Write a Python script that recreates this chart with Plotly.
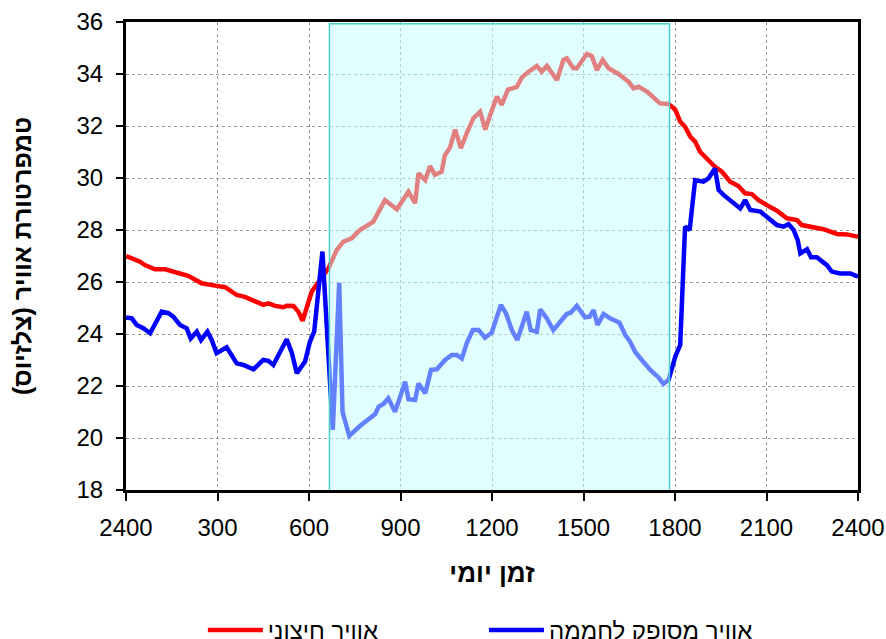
import plotly.graph_objects as go

# ---- data ----
outside_name = "אוויר חיצוני"
supply_name = "אוויר מסופק לחממה"

outside_hours = [0.00, 0.46, 0.62, 0.95, 1.28, 1.55, 1.83, 2.04, 2.48, 2.70, 2.97, 3.25, 3.63, 3.90,
                 4.29, 4.50, 4.67, 4.89, 5.16, 5.27, 5.49, 5.65, 5.79, 6.09, 6.36, 6.64, 6.91, 7.13,
                 7.40, 7.67, 8.11, 8.49, 8.88, 9.26, 9.48, 9.59, 9.81, 9.97, 10.13, 10.35, 10.45,
                 10.63, 10.79, 10.98, 11.17, 11.39, 11.61, 11.78, 11.94, 12.16, 12.32, 12.52, 12.81,
                 12.98, 13.20, 13.47, 13.63, 13.80, 14.13, 14.34, 14.45, 14.67, 14.78, 15.11, 15.27,
                 15.44, 15.63, 15.82, 16.15, 16.48, 16.64, 16.81, 17.08, 17.30, 17.51, 17.79, 18.01,
                 18.17, 18.33, 18.50, 18.66, 18.82, 19.04, 19.31, 19.54, 19.81, 20.08, 20.30, 20.52,
                 20.74, 21.07, 21.34, 21.67, 22.00, 22.16, 22.54, 22.87, 23.31, 23.64, 24.00]
outside_temp = [27.00, 26.78, 26.65, 26.49, 26.49, 26.40, 26.27, 26.24, 25.95, 25.92, 25.85, 25.80, 25.50, 25.43,
                25.20, 25.12, 25.18, 25.08, 25.03, 25.09, 25.08, 24.86, 24.51, 25.63, 26.08, 26.53, 27.23, 27.55,
                27.68, 28.00, 28.32, 29.15, 28.80, 29.47, 29.03, 30.18, 29.92, 30.46, 30.12, 30.24, 30.85,
                31.20, 31.86, 31.15, 31.72, 32.30, 32.55, 31.86, 32.42, 33.13, 32.81, 33.40, 33.50,
                33.87, 34.09, 34.31, 34.09, 34.31, 33.77, 34.54, 34.60, 34.22, 34.22, 34.77, 34.69,
                34.15, 34.54, 34.22, 34.00, 33.70, 33.45, 33.51, 33.32, 33.07, 32.87, 32.85, 32.62,
                32.17, 31.97, 31.59, 31.40, 31.01, 30.76, 30.43, 30.24, 29.86, 29.69, 29.41, 29.38,
                29.15, 28.92, 28.74, 28.45, 28.38, 28.19, 28.10, 28.03, 27.85, 27.83, 27.74]

supply_hours = [0.00, 0.19, 0.35, 0.57, 0.79, 1.17, 1.39, 1.55, 1.77, 1.99, 2.12, 2.32, 2.46, 2.67,
                2.81, 2.97, 3.30, 3.63, 3.85, 4.18, 4.50, 4.67, 4.83, 5.27, 5.44, 5.60, 5.87, 6.03,
                6.17, 6.44, 6.78, 6.99, 7.10, 7.32, 7.67, 8.00, 8.17, 8.28, 8.44, 8.60, 8.82, 8.99,
                9.15, 9.26, 9.48, 9.59, 9.81, 10.00, 10.19, 10.46, 10.68, 10.85, 11.01, 11.17, 11.37,
                11.56, 11.77, 11.99, 12.29, 12.46, 12.65, 12.83, 13.14, 13.27, 13.47, 13.58, 13.80,
                14.01, 14.23, 14.45, 14.58, 14.78, 15.05, 15.20, 15.33, 15.46, 15.66, 15.87, 16.18,
                16.37, 16.53, 16.69, 16.91, 17.19, 17.46, 17.62, 17.79, 18.01, 18.17, 18.33, 18.48,
                18.66, 18.93, 19.10, 19.31, 19.43, 19.59, 19.81, 20.14, 20.30, 20.47, 20.80, 21.07,
                21.34, 21.56, 21.72, 21.89, 22.02, 22.11, 22.33, 22.46, 22.65, 22.98, 23.14, 23.42,
                23.75, 24.00]
supply_temp = [24.64, 24.60, 24.35, 24.22, 24.03, 24.86, 24.80, 24.67, 24.35, 24.22, 23.83, 24.09, 23.77, 24.09,
               23.77, 23.26, 23.49, 22.87, 22.81, 22.64, 23.00, 22.97, 22.81, 23.80, 23.26, 22.49, 22.94, 23.70,
               24.09, 27.17, 20.31, 25.97, 21.00, 20.08, 20.46, 20.76, 20.92, 21.20, 21.31, 21.53, 21.01, 21.59,
               22.17, 21.49, 21.46, 22.10, 21.72, 22.62, 22.64, 23.00, 23.19, 23.19, 23.06, 23.64, 24.15,
               24.15, 23.86, 24.05, 25.12, 24.79, 24.15, 23.77, 24.86, 24.15, 24.09, 24.95, 24.60,
               24.15, 24.43, 24.77, 24.82, 25.08, 24.64, 24.67, 24.92, 24.35, 24.77, 24.60, 24.43,
               23.96, 23.70, 23.32, 23.00, 22.62, 22.33, 22.08, 22.23, 23.13, 23.58, 28.13, 28.00,
               29.92, 29.86, 29.99, 30.37, 29.54, 29.35, 29.15, 28.83, 29.15, 28.77, 28.71, 28.45,
               28.19, 28.13, 28.23, 28.00, 27.62, 27.10, 27.26, 26.95, 26.95, 26.65, 26.40, 26.33,
               26.33, 26.20]

tick_vals = [0, 3, 6, 9, 12, 15, 18, 21, 24]
tick_text = ["2400", "300", "600", "900", "1200", "1500", "1800", "2100", "2400"]

shade_start = 6.67
shade_end = 17.82

x_title = "זמן יומי"
y_title = "טמפרטורת אוויר (צלזיוס)"

FONT = "Liberation Sans, Arial, sans-serif"

fig = go.Figure()
fig.add_trace(go.Scatter(x=outside_hours, y=outside_temp, mode="lines", name=outside_name,
                         line=dict(color="#FF0000", width=4.5), legend="legend"))
fig.add_trace(go.Scatter(x=supply_hours, y=supply_temp, mode="lines", name=supply_name,
                         line=dict(color="#0000FF", width=4.5), legend="legend2"))

fig.add_shape(type="rect", xref="x", yref="y", x0=shade_start, x1=shade_end, y0=17.93, y1=35.93,
              fillcolor="rgba(195,255,255,0.5)", line=dict(color="#48CFC8", width=1.5), layer="above")

leg_common = dict(orientation="h", xanchor="left", y=-0.30, yanchor="middle", itemwidth=55,
                  font=dict(size=24, family=FONT), bgcolor="rgba(0,0,0,0)")
fig.update_layout(
    width=886, height=639,
    margin=dict(l=126, r=28, t=22, b=149, autoexpand=False),
    paper_bgcolor="white", plot_bgcolor="white",
    font=dict(family=FONT, color="black"),
    showlegend=True,
    legend=dict(x=0.105, **leg_common),
    legend2=dict(x=0.489, **leg_common),
)
fig.update_xaxes(range=[0, 24], tickvals=tick_vals, ticktext=tick_text,
                 showline=True, linecolor="black", linewidth=3, mirror=True,
                 ticks="outside", ticklen=8, tickwidth=2, tickcolor="black",
                 tickfont=dict(size=24, family=FONT), ticklabelstandoff=6,
                 showgrid=True, gridcolor="#999999", gridwidth=1, griddash="dot",
                 zeroline=False,
                 title=dict(text="<b>" + x_title + "</b>", font=dict(size=26, family=FONT), standoff=25))
fig.update_yaxes(range=[18, 36], dtick=2, tick0=18,
                 showline=True, linecolor="black", linewidth=3, mirror=True,
                 ticks="outside", ticklen=7, tickwidth=2, tickcolor="black",
                 tickfont=dict(size=24, family=FONT), ticklabelstandoff=8,
                 showgrid=True, gridcolor="#999999", gridwidth=1, griddash="dot",
                 zeroline=False,
                 title=dict(text="<b>" + y_title + "</b>", font=dict(size=25, family=FONT), standoff=38))

fig.write_html("out.html")
